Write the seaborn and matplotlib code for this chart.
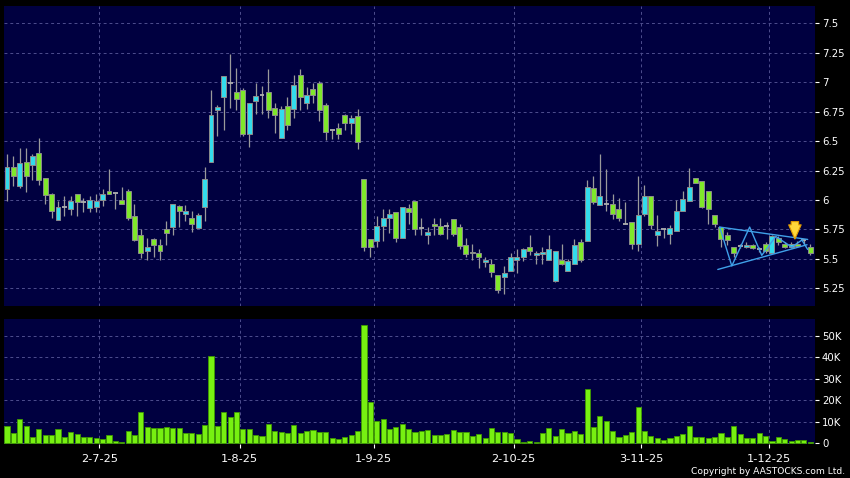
import numpy as np
import pandas as pd
import matplotlib
matplotlib.use("Agg")
import matplotlib.pyplot as plt
import seaborn as sns

# ---------------- data ----------------
holidays = ["2025-07-01", "2025-10-01", "2025-10-07", "2025-10-29"]
dates = pd.bdate_range("2025-06-10", "2025-12-09", freq="C", holidays=holidays)

opens = [6.09, 6.28, 6.12, 6.32, 6.30, 6.40, 6.19, 6.05, 5.83, 5.94,
         5.92, 6.05, 5.98, 5.93, 5.94, 6.00, 6.08, 6.06, 6.00, 6.08,
         5.86, 5.70, 5.57, 5.67, 5.62, 5.75, 5.77, 5.95, 5.88, 5.85,
         5.76, 5.94, 6.32, 6.76, 6.87, 6.99, 6.92, 6.93, 6.56, 6.84,
         6.89, 6.92, 6.78, 6.53, 6.80, 6.77, 7.06, 6.82, 6.94, 6.99,
         6.81, 6.59, 6.61, 6.72, 6.65, 6.71, 6.18, 5.67, 5.65, 5.78,
         5.85, 5.90, 5.68, 5.93, 5.99, 5.76, 5.70, 5.80, 5.78, 5.78,
         5.84, 5.77, 5.62, 5.56, 5.55, 5.47, 5.46, 5.36, 5.35, 5.40,
         5.49, 5.52, 5.60, 5.53, 5.54, 5.49, 5.31, 5.49, 5.40, 5.46,
         5.64, 5.65, 6.10, 5.96, 5.97, 5.97, 5.92, 5.80, 5.81, 5.63,
         5.88, 6.03, 5.70, 5.75, 5.71, 5.74, 5.91, 5.99, 6.19, 6.16,
         6.08, 5.87, 5.77, 5.70, 5.60, 5.61, 5.60, 5.62, 5.58, 5.63,
         5.55, 5.68, 5.63, 5.60, 5.63, 5.66, 5.60]
highs = [6.39, 6.37, 6.44, 6.44, 6.39, 6.53, 6.19, 6.06, 5.99, 6.03,
         6.03, 6.05, 6.02, 6.03, 6.05, 6.09, 6.26, 6.06, 6.11, 6.09,
         5.97, 5.75, 5.68, 5.68, 5.67, 5.82, 5.97, 5.96, 5.96, 5.91,
         5.89, 6.28, 6.93, 6.81, 7.05, 7.24, 7.12, 6.95, 6.82, 6.99,
         6.97, 7.11, 6.82, 6.80, 6.87, 7.06, 7.11, 6.96, 6.99, 7.01,
         6.82, 6.59, 6.65, 6.73, 6.72, 6.77, 6.18, 5.67, 5.86, 5.92,
         5.92, 5.90, 5.94, 5.97, 5.99, 5.85, 5.77, 5.85, 5.85, 5.81,
         5.84, 5.80, 5.68, 5.63, 5.58, 5.52, 5.50, 5.36, 5.44, 5.55,
         5.58, 5.59, 5.70, 5.57, 5.60, 5.70, 5.57, 5.63, 5.50, 5.67,
         5.67, 6.17, 6.20, 6.39, 6.26, 6.05, 6.02, 5.98, 5.81, 6.20,
         6.13, 6.03, 5.87, 5.75, 5.79, 6.00, 6.08, 6.27, 6.19, 6.16,
         6.08, 5.87, 5.77, 5.73, 5.60, 5.63, 5.64, 5.63, 5.60, 5.64,
         5.70, 5.69, 5.64, 5.64, 5.65, 5.67, 5.63]
lows = [5.99, 6.12, 6.10, 6.07, 6.17, 6.13, 5.97, 5.85, 5.83, 5.86,
        5.87, 5.86, 5.90, 5.90, 5.90, 5.95, 6.05, 5.92, 5.97, 5.83,
        5.65, 5.51, 5.49, 5.52, 5.49, 5.62, 5.70, 5.77, 5.82, 5.73,
        5.76, 5.82, 6.32, 6.54, 6.59, 6.78, 6.76, 6.54, 6.45, 6.73,
        6.73, 6.70, 6.57, 6.53, 6.59, 6.70, 6.76, 6.77, 6.82, 6.67,
        6.51, 6.52, 6.52, 6.59, 6.56, 6.43, 5.57, 5.52, 5.60, 5.65,
        5.72, 5.64, 5.68, 5.80, 5.70, 5.70, 5.63, 5.70, 5.70, 5.67,
        5.69, 5.58, 5.52, 5.49, 5.42, 5.43, 5.35, 5.21, 5.20, 5.40,
        5.38, 5.48, 5.53, 5.46, 5.46, 5.49, 5.30, 5.45, 5.40, 5.46,
        5.47, 5.65, 5.97, 5.96, 5.91, 5.84, 5.82, 5.80, 5.58, 5.57,
        5.86, 5.75, 5.61, 5.68, 5.63, 5.74, 5.91, 5.99, 6.14, 5.93,
        5.80, 5.77, 5.60, 5.62, 5.52, 5.59, 5.59, 5.58, 5.56, 5.55,
        5.55, 5.62, 5.59, 5.59, 5.60, 5.62, 5.53]
closes = [6.28, 6.20, 6.31, 6.20, 6.37, 6.17, 6.04, 5.91, 5.94, 5.94,
          5.99, 5.98, 5.98, 6.00, 5.99, 6.05, 6.05, 6.06, 5.97, 5.85,
          5.66, 5.55, 5.60, 5.62, 5.57, 5.72, 5.97, 5.91, 5.91, 5.80,
          5.87, 6.18, 6.72, 6.79, 7.05, 6.99, 6.86, 6.56, 6.82, 6.88,
          6.89, 6.76, 6.72, 6.77, 6.64, 6.98, 6.87, 6.89, 6.89, 6.76,
          6.58, 6.59, 6.56, 6.65, 6.70, 6.49, 5.60, 5.60, 5.78, 5.85,
          5.88, 5.68, 5.94, 5.90, 5.75, 5.76, 5.73, 5.78, 5.71, 5.78,
          5.71, 5.61, 5.54, 5.55, 5.52, 5.49, 5.39, 5.24, 5.38, 5.52,
          5.52, 5.58, 5.57, 5.55, 5.56, 5.58, 5.57, 5.46, 5.48, 5.62,
          5.49, 6.11, 5.98, 6.03, 5.97, 5.88, 5.85, 5.80, 5.63, 5.87,
          6.03, 5.79, 5.74, 5.75, 5.76, 5.91, 6.01, 6.11, 6.14, 5.94,
          5.92, 5.80, 5.67, 5.66, 5.55, 5.61, 5.62, 5.59, 5.58, 5.57,
          5.69, 5.64, 5.60, 5.63, 5.61, 5.66, 5.55]
volumes = [8100, 4800, 11200, 8100, 3100, 6700, 3900, 3900, 6800, 2900,
           5300, 4500, 2900, 3100, 2500, 2000, 3700, 900, 800, 5900,
           3700, 14400, 7400, 7100, 7100, 7800, 7000, 7000, 5000, 5000,
           4300, 8500, 40600, 7900, 14400, 12400, 14400, 6700, 6700, 3900,
           3300, 9100, 5700, 5300, 4700, 8700, 4700, 5900, 6200, 5300,
           5100, 2600, 2000, 3100, 3700, 5900, 55000, 19200, 10400, 11200,
           6700, 7400, 9100, 6800, 5400, 5600, 6200, 3900, 3900, 4200,
           6200, 5100, 5100, 3400, 4200, 2500, 7000, 5300, 5300, 4700,
           2000, 600, 1200, 600, 4800, 7000, 3600, 6700, 4800, 5600,
           4300, 25100, 7400, 12600, 10400, 5900, 2900, 3900, 5100, 16900,
           5600, 3400, 2300, 1600, 2600, 3400, 4500, 8100, 2800, 2800,
           2300, 2800, 4700, 3100, 8100, 4200, 2300, 2300, 4800, 3400,
           1100, 2800, 1900, 1200, 1400, 1700, 800]

price_ticks = [5.25, 5.5, 5.75, 6.0, 6.25, 6.5, 6.75, 7.0, 7.25, 7.5]
volume_ticks = [0, 10000, 20000, 30000, 40000, 50000]
volume_tick_labels = ["0", "10K", "20K", "30K", "40K", "50K"]

# symmetric-triangle annotation (candle index, price)
tri_upper_x = [111.8, 125.6]
tri_upper_y = [5.77, 5.665]
tri_lower_x = [111.5, 125.5]
tri_lower_y = [5.41, 5.62]
zig_x = [111.8, 113.7, 116.5, 118.4, 120.6, 123.1, 124.7, 125.6]
zig_y = [5.77, 5.44, 5.77, 5.53, 5.69, 5.60, 5.66, 5.58]
arrow_x = 123.6
arrow_tip, arrow_tail = 5.645, 5.84

# ---------------- styling ----------------
NAVY = "#000040"
GRID = "#4e4e8e"
UP = "#33dcec"
DOWN = "#7fe82a"
VOLC = "#77f011"

sns.set_theme(style="dark")
plt.rcParams["font.family"] = ["DejaVu Sans"]

o = np.array(opens); h = np.array(highs); l = np.array(lows); c = np.array(closes)
n = len(dates)
idx = np.arange(n)
df = pd.DataFrame({"i": idx, "vol": volumes})

fig = plt.figure(figsize=(8.5, 4.78), dpi=100, facecolor="black")
ax = fig.add_axes([4 / 850, 1 - 306 / 478, 811 / 850, 300.3 / 478])
axv = fig.add_axes([4 / 850, 1 - 444 / 478, 811 / 850, 125 / 478])

# month-start ticks
month_first = [k for k in range(1, n) if dates[k].month != dates[k - 1].month]
tick_pos = [k - 0.5 for k in month_first]
tick_lab = [f"{dates[k].day}-{dates[k].month}-{dates[k].strftime('%y')}" for k in month_first]

for a in (ax, axv):
    a.set_facecolor(NAVY)
    for s in a.spines.values():
        s.set_visible(False)
    a.set_axisbelow(True)
    a.grid(True, color=GRID, linestyle=(0, (3, 3)), linewidth=0.7)
    a.yaxis.tick_right()
    a.tick_params(axis="y", colors="white", labelsize=7.3, length=3, width=0.8, pad=2,
                  left=False, right=True)
    a.set_xticks(tick_pos)

# ---- candles ----
up = c > o
down = c < o
doji = c == o
ax.vlines(idx, l, h, color="#9a9a9a", linewidth=0.9, zorder=2)
bw = 0.78
ax.bar(idx[up], (c - o)[up], bottom=o[up], width=bw, color=UP, edgecolor="#8c8c8c",
       linewidth=0.7, zorder=3)
ax.bar(idx[down], (o - c)[down], bottom=c[down], width=bw, color=DOWN, edgecolor="#8c8c8c",
       linewidth=0.7, zorder=3)
ax.hlines(o[doji], idx[doji] - bw / 2, idx[doji] + bw / 2, color="#b0b0b0", linewidth=1.3, zorder=3)

# triangle pattern + arrow
ax.plot(tri_upper_x, tri_upper_y, color="#3fa0e8", linewidth=1.0, zorder=4)
ax.plot(tri_lower_x, tri_lower_y, color="#3fa0e8", linewidth=1.0, zorder=4)
ax.plot(zig_x, zig_y, color="#3fa0e8", linewidth=1.0, zorder=4)
ax.annotate("", xy=(arrow_x, arrow_tip), xytext=(arrow_x, arrow_tail),
            arrowprops=dict(arrowstyle="simple,head_width=0.75,head_length=0.85,tail_width=0.45",
                            fc="#ffd83a", ec="#e09a00", lw=0.8), zorder=5)

ax.set_xlim(-0.47, 126.75)
ax.set_ylim(5.10, 7.649)
ax.set_yticks(price_ticks)
ax.set_yticklabels([f"{v:g}" for v in price_ticks])
ax.tick_params(axis="x", bottom=False, labelbottom=False)

# ---- volume ----
sns.barplot(data=df, x="i", y="vol", native_scale=True, ax=axv, color=VOLC,
            saturation=1, edgecolor="#3f9a00", linewidth=0.6, width=0.8, errorbar=None)
axv.set_xlim(-0.47, 126.75)
axv.set_ylim(-330, 57900)
axv.set_yticks(volume_ticks)
axv.set_yticklabels(volume_tick_labels)
axv.set_xticks(tick_pos)
axv.set_xticklabels(tick_lab)
axv.tick_params(axis="x", colors="white", labelsize=8.2, length=3, width=0.8, pad=4,
                bottom=True)
axv.set_xlabel("")
axv.set_ylabel("")

fig.text(845 / 850, 1 - 471.5 / 478, "Copyright by AASTOCKS.com Ltd.", color="white",
         fontsize=6.6, ha="right", va="center")

fig.savefig("out.png", dpi=100, facecolor="black")
